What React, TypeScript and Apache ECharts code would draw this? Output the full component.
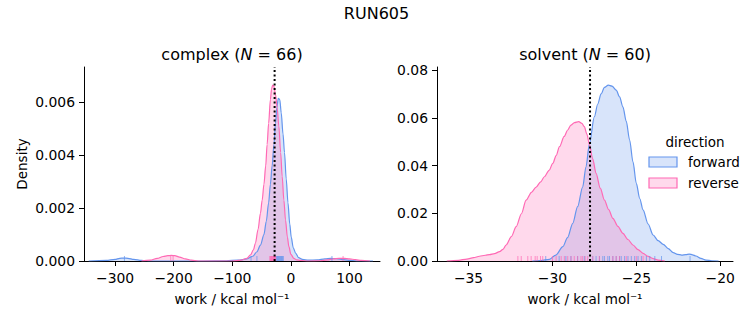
import React, { useEffect, useRef } from "react";
import * as echarts from "echarts";

const FONT = "DejaVu Sans";
const BLUE = "#6495ED";
const PINK = "#FF69B4";

// complex panel KDE curves
const complexForwardX = [-345, -315, -300, -292, -285, -278, -268, -255, -240, -150, -110, -90, -75, -65, -58, -52, -46, -42, -38, -35, -32, -29, -26.3, -24, -21.5, -19, -16.5, -13.5, -10.9, -8, -5, -2, 0.6, 4, 8, 13, 19.5, 30, 45, 58, 68, 78, 90, 102, 115, 140];
const complexForwardY = [0, 0.00002, 0.00006, 0.0001, 0.00011, 0.0001, 0.00006, 0.00002, 0, 0, 0.00001, 0.00003, 0.00008, 0.00018, 0.00035, 0.0006, 0.001, 0.0015, 0.0022, 0.0029, 0.0036, 0.0044, 0.0052, 0.0058, 0.00615, 0.0061, 0.0056, 0.0048, 0.0041, 0.0031, 0.0022, 0.0014, 0.0009, 0.0005, 0.0003, 0.00013, 0.00006, 0.00003, 0.00004, 0.00008, 0.0001, 0.00009, 0.00005, 0.00002, 0, 0];
const complexReverseX = [-255, -240, -228, -218, -210, -204, -198, -190, -180, -170, -158, -100, -85, -75, -69, -64, -60.6, -56, -52, -49, -46, -43, -40.6, -38, -35, -33, -31, -29, -26.3, -23.5, -20.6, -17.5, -14.9, -12, -9.2, -6, -3.4, 0, 5, 10, 16.6, 30, 50, 62, 72, 82, 91, 100, 110, 120, 135];
const complexReverseY = [0, 0.00003, 0.0001, 0.00017, 0.0002, 0.00021, 0.0002, 0.00015, 0.00008, 0.00003, 0, 0, 0.00003, 0.0001, 0.00023, 0.00042, 0.00067, 0.0012, 0.0018, 0.0023, 0.0029, 0.0036, 0.0044, 0.0052, 0.0061, 0.0065, 0.00665, 0.0066, 0.0063, 0.0058, 0.0051, 0.0041, 0.0032, 0.0023, 0.00155, 0.0009, 0.00054, 0.00025, 0.0001, 0.00004, 0.00002, 0, 0.00001, 0.00004, 0.00008, 0.0001, 0.0001, 0.00008, 0.00005, 0.00002, 0];

// solvent panel KDE curves
const solventForwardX = [-31.2, -30.7, -30.18, -29.8, -29.38, -29.1, -28.79, -28.5, -28.2, -28.0, -27.8, -27.5, -27.3, -27.1, -26.9, -26.67, -26.45, -26.2, -26.0, -25.8, -25.6, -25.4, -25.2, -25.0, -24.8, -24.6, -24.3, -24.0, -23.7, -23.4, -23.1, -22.8, -22.55, -22.3, -22.05, -21.85, -21.65, -21.45, -21.15, -20.85, -20.5, -20.1];
const solventForwardY = [0, 0.0002, 0.0007, 0.0025, 0.006, 0.0098, 0.0158, 0.0228, 0.031, 0.0395, 0.049, 0.0605, 0.0658, 0.070, 0.0728, 0.0737, 0.0733, 0.0716, 0.0688, 0.0646, 0.0585, 0.0507, 0.0415, 0.0325, 0.0262, 0.0214, 0.0155, 0.0109, 0.0085, 0.007, 0.0052, 0.0035, 0.0028, 0.0025, 0.0027, 0.0029, 0.0026, 0.0021, 0.0011, 0.0004, 0.0001, 0];
const solventReverseX = [-36.3, -35.6, -35.1, -34.7, -34.35, -34.0, -33.75, -33.45, -33.15, -32.95, -32.76, -32.45, -32.16, -31.85, -31.57, -31.25, -30.97, -30.7, -30.48, -30.2, -29.98, -29.78, -29.58, -29.3, -29.09, -28.9, -28.69, -28.43, -28.25, -28.1, -27.95, -27.8, -27.6, -27.4, -27.15, -26.9, -26.65, -26.4, -26.1, -25.8, -25.5, -25.2, -24.9, -24.6, -24.3, -24.0, -23.7, -23.3];
const solventReverseY = [0, 0.0003, 0.0008, 0.0014, 0.002, 0.0024, 0.0027, 0.0031, 0.0039, 0.0049, 0.0067, 0.0102, 0.0144, 0.0198, 0.0255, 0.0288, 0.031, 0.0332, 0.0353, 0.038, 0.0409, 0.0442, 0.0479, 0.0522, 0.0549, 0.0569, 0.058, 0.0584, 0.0577, 0.0563, 0.0532, 0.049, 0.0428, 0.0367, 0.0305, 0.0255, 0.0215, 0.0179, 0.0145, 0.0116, 0.009, 0.0067, 0.0048, 0.0032, 0.0019, 0.001, 0.0004, 0];

// rug values (individual work values)
const complexForwardRug = [-284, -68, -58, -27, -25, -24, -23, -22, -21, -20, -19, -18, -17, -16, -15, -14, -13, 70];
const complexReverseRug = [-205, -201, -36, -35, -34, -33, -32.5, -32, -31, -30, -29.5, -29, -28, -27.5, -27, -26, 89];
const solventForwardRug = [-30.4, -29.6, -29.2, -28.9, -28.5, -28.1, -27.6, -27.4, -27.2, -27.0, -26.9, -26.7, -26.6, -26.4, -26.2, -26.0, -25.9, -25.7, -25.5, -25.3, -25.1, -24.9, -24.7, -24.4, -24.2, -23.9, -23.5, -21.8];
const solventReverseRug = [-32.06, -31.86, -31.47, -31.27, -31.03, -30.91, -30.71, -30.58, -30.0, -29.78, -29.48, -29.29, -29.09, -28.89, -28.7, -28.5, -28.3, -28.2, -28.05, -27.9, -27.6, -27.2, -26.4, -26.2, -26.0, -25.6, -25.0, -24.6];

// dotted reference lines (free energy estimates)
const complexEstimate = -27.8;
const solventEstimate = -27.76;

// axes
const complexXRange = [-353, 152];
const solventXRange = [-36.88, -19.24];
const complexYMax = 0.00733;
const solventYMax = 0.0813;
const complexXTicks = [-300, -200, -100, 0, 100];
const solventXTicks = [-35, -30, -25, -20];
const complexYTicks = [0, 0.002, 0.004, 0.006];
const solventYTicks = [0, 0.02, 0.04, 0.06, 0.08];

const zip = (xs: number[], ys: number[]) => xs.map((x, i) => [x, ys[i]]);
const minus = (v: number) => (v < 0 ? "\u2212" + Math.abs(v) : String(v));

function xAxis(gridIndex: number, range: number[], ticks: number[]) {
  return {
    type: "value",
    gridIndex,
    min: range[0],
    max: range[1],
    axisLine: { onZero: false, lineStyle: { color: "#000", width: 1 } },
    axisTick: { show: true, length: 5, lineStyle: { color: "#000" }, customValues: ticks },
    axisLabel: { color: "#000", fontSize: 13.9, fontFamily: FONT, margin: 10, formatter: (v: number) => minus(v), customValues: ticks },
    splitLine: { show: false },
  };
}
function yAxis(gridIndex: number, max: number, ticks: number[], digits: number) {
  return {
    type: "value",
    gridIndex,
    min: 0,
    max,
    axisLine: { show: true, onZero: false, lineStyle: { color: "#000", width: 1 } },
    axisTick: { show: true, length: 5, lineStyle: { color: "#000" }, customValues: ticks },
    axisLabel: { color: "#000", fontSize: 13.9, fontFamily: FONT, margin: 9, formatter: (v: number) => v.toFixed(digits), customValues: ticks },
    splitLine: { show: false },
  };
}

function kde(idx: number, xs: number[], ys: number[], color: string, name: string) {
  return {
    type: "line",
    name,
    xAxisIndex: idx,
    yAxisIndex: idx,
    data: zip(xs, ys),
    smooth: 0.3,
    smoothMonotone: "x",
    showSymbol: false,
    symbol: "none",
    lineStyle: { color, width: 1.2 },
    areaStyle: { color, opacity: 0.25 },
    silent: true,
    z: 2,
  };
}
function rug(idx: number, vals: number[], color: string) {
  return {
    type: "scatter",
    xAxisIndex: idx,
    yAxisIndex: idx,
    data: vals.map((v) => [v, 0]),
    symbol: "rect",
    symbolSize: [1, 5],
    symbolOffset: [0, -2.5],
    itemStyle: { color, opacity: 0.7 },
    silent: true,
    z: 3,
  };
}
function vline(idx: number, x: number, ymax: number) {
  return {
    type: "line",
    xAxisIndex: idx,
    yAxisIndex: idx,
    data: [[x, 0], [x, ymax]],
    showSymbol: false,
    symbol: "none",
    lineStyle: { color: "#000", width: 2, type: [2, 2.5] },
    silent: true,
    z: 5,
  };
}

export default function App() {
  const ref = useRef<HTMLDivElement>(null);
  useEffect(() => {
    if (!ref.current) return;
    const chart = echarts.init(ref.current, undefined, { renderer: "svg" });
    const txt = { fill: "#000", fontFamily: FONT };
    chart.setOption({
      animation: false,
      backgroundColor: "#fff",
      grid: [
        { left: 84, top: 67, width: 296, height: 194, containLabel: false },
        { left: 437, top: 67, width: 296, height: 194, containLabel: false },
      ],
      xAxis: [xAxis(0, complexXRange, complexXTicks), xAxis(1, solventXRange, solventXTicks)],
      yAxis: [yAxis(0, complexYMax, complexYTicks, 3), yAxis(1, solventYMax, solventYTicks, 2)],
      series: [
        kde(0, complexForwardX, complexForwardY, BLUE, "forward"),
        kde(0, complexReverseX, complexReverseY, PINK, "reverse"),
        rug(0, complexForwardRug, BLUE),
        rug(0, complexReverseRug, PINK),
        vline(0, complexEstimate, complexYMax),
        kde(1, solventForwardX, solventForwardY, BLUE, "forward"),
        kde(1, solventReverseX, solventReverseY, PINK, "reverse"),
        rug(1, solventForwardRug, BLUE),
        rug(1, solventReverseRug, PINK),
        vline(1, solventEstimate, solventYMax),
      ],
      graphic: [
        { type: "text", x: 376.5, y: 13, style: { ...txt, text: "RUN605", fontSize: 16, align: "center", verticalAlign: "middle" } },
        {
          type: "text", x: 232, y: 54,
          style: { ...txt, text: "complex ({i|N} = 66)", fontSize: 16, align: "center", verticalAlign: "middle", rich: { i: { fontStyle: "italic", fontSize: 16, fontFamily: FONT, fill: "#000" } } },
        },
        {
          type: "text", x: 585, y: 54,
          style: { ...txt, text: "solvent ({i|N} = 60)", fontSize: 16, align: "center", verticalAlign: "middle", rich: { i: { fontStyle: "italic", fontSize: 16, fontFamily: FONT, fill: "#000" } } },
        },
        { type: "text", x: 22, y: 164, rotation: Math.PI / 2, style: { ...txt, text: "Density", fontSize: 13.5, align: "center", verticalAlign: "middle" } },
        { type: "text", x: 232, y: 299, style: { ...txt, text: "work / kcal mol\u207B\u00B9", fontSize: 13.5, align: "center", verticalAlign: "middle" } },
        { type: "text", x: 585, y: 299, style: { ...txt, text: "work / kcal mol\u207B\u00B9", fontSize: 13.5, align: "center", verticalAlign: "middle" } },
        { type: "text", x: 695, y: 142, style: { ...txt, text: "direction", fontSize: 13.5, align: "center", verticalAlign: "middle" } },
        { type: "rect", shape: { x: 649, y: 157, width: 28, height: 10 }, style: { fill: "rgba(100,149,237,0.25)", stroke: BLUE, lineWidth: 1.2 } },
        { type: "text", x: 688, y: 162, style: { ...txt, text: "forward", fontSize: 13.5, align: "left", verticalAlign: "middle" } },
        { type: "rect", shape: { x: 649, y: 178, width: 28, height: 10 }, style: { fill: "rgba(255,105,180,0.25)", stroke: PINK, lineWidth: 1.2 } },
        { type: "text", x: 688, y: 183, style: { ...txt, text: "reverse", fontSize: 13.5, align: "left", verticalAlign: "middle" } },
      ],
    });
    return () => chart.dispose();
  }, []);
  return <div ref={ref} style={{ width: 753, height: 325, position: "absolute", left: 0, top: 0 }} />;
}
